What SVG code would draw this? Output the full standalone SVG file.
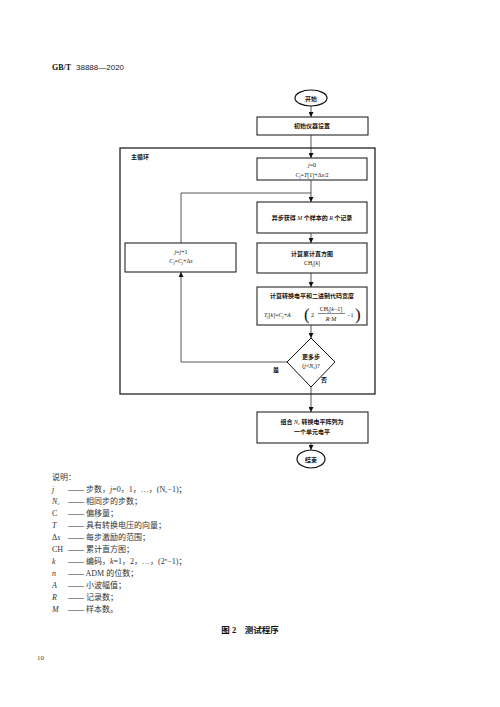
<svg xmlns="http://www.w3.org/2000/svg" width="500" height="707" viewBox="0 0 500 707">
<defs>
<marker id="ah" viewBox="0 0 6 6" refX="6" refY="3" markerWidth="5" markerHeight="5" orient="auto" markerUnits="userSpaceOnUse">
<path d="M0,0 L6,3 L0,6 z" fill="#111"/>
</marker>
</defs>
<style>
.t{font-family:"Liberation Serif","Noto Sans CJK SC",serif;fill:#111}
.n{font-size:6px;text-anchor:middle}
.b{font-weight:bold}
.box{fill:#fff;stroke:#111;stroke-width:1}
.ln{fill:none;stroke:#111;stroke-width:0.7}
.lg{font-size:8px;fill:#333}
</style>
<rect width="500" height="707" fill="#fff"/>
<text class="t b" x="52" y="70" font-size="8">GB/T</text>
<text x="76" y="70" style="font-size:8px;font-family:'Liberation Sans',sans-serif;fill:#222">38888—2020</text>

<rect id="mainloop" x="120" y="148" width="255" height="246" fill="none" stroke="#111" stroke-width="1.2"/>
<text class="t b" x="131" y="159" font-size="6">主循环</text>

<g id="connectors">
<line class="ln" x1="311" y1="106" x2="311" y2="117" marker-end="url(#ah)"/>
<line class="ln" x1="311" y1="135" x2="311" y2="158" marker-end="url(#ah)"/>
<line class="ln" x1="311" y1="180" x2="311" y2="202" marker-end="url(#ah)"/>
<polyline class="ln" points="181,243 181,193 311,193"/>
<line class="ln" x1="311" y1="233" x2="311" y2="243" marker-end="url(#ah)"/>
<line class="ln" x1="311" y1="273" x2="311" y2="287" marker-end="url(#ah)"/>
<line class="ln" x1="311" y1="325" x2="311" y2="338" marker-end="url(#ah)"/>
<polyline class="ln" points="287,362 181,362 181,272" marker-end="url(#ah)"/>
<line class="ln" x1="311" y1="387" x2="311" y2="412" marker-end="url(#ah)"/>
<line class="ln" x1="311" y1="443" x2="311" y2="450" marker-end="url(#ah)"/>
<text class="t b" x="273" y="372" font-size="6">是</text>
<text class="t b" x="321" y="382" font-size="6">否</text>
</g>

<g id="start">
<ellipse cx="311" cy="98" rx="16" ry="8" fill="#fff" stroke="#111" stroke-width="1.2"/>
<text class="t n b" x="311" y="100.5">开始</text>
</g>
<g id="init">
<rect class="box" x="257" y="117" width="111" height="18"/>
<text class="t n b" x="312" y="128">初始仪器设置</text>
</g>
<g id="j0">
<rect class="box" x="257" y="158" width="110" height="22"/>
<text class="t n" x="312" y="167"><tspan font-style="italic">j</tspan>=0</text>
<text class="t n" x="312" y="176.5"><tspan font-style="italic">C</tspan><tspan font-size="4" font-style="italic" dy="1">j</tspan><tspan dy="-1">=</tspan><tspan font-style="italic">T</tspan>[1]+Δ<tspan font-style="italic">s</tspan>/2</text>
</g>
<g id="acquire">
<rect class="box" x="257" y="202" width="110" height="31"/>
<text class="t n b" x="312" y="219.5">异步获得 <tspan font-style="italic" font-weight="normal">M</tspan> 个样本的 <tspan font-style="italic" font-weight="normal">R</tspan> 个记录</text>
</g>
<g id="hist">
<rect class="box" x="257" y="243" width="110" height="30"/>
<text class="t n b" x="312" y="256">计算累计直方图</text>
<text class="t n" x="312" y="265">CH<tspan font-size="4" font-style="italic" dy="1">j</tspan><tspan dy="-1">[</tspan><tspan font-style="italic">k</tspan>]</text>
</g>
<g id="calc">
<rect class="box" x="257" y="287" width="110" height="38"/>
<text class="t n b" x="312" y="298">计算转换电平和二进制代码宽度</text>
<text class="t" x="264" y="316.5" font-size="6"><tspan font-style="italic">T</tspan><tspan font-size="4" font-style="italic" dy="1">j</tspan><tspan dy="-1">[</tspan><tspan font-style="italic">k</tspan>]=<tspan font-style="italic">C</tspan><tspan font-size="4" font-style="italic" dy="1">j</tspan><tspan dy="-1">+</tspan><tspan font-style="italic">A</tspan></text>
<text class="t" x="304" y="320" font-size="17">(</text>
<text class="t" x="311" y="316.5" font-size="6">2</text>
<text class="t n" x="331" y="311">CH<tspan font-size="4" font-style="italic" dy="1">j</tspan><tspan dy="-1">[</tspan><tspan font-style="italic">k</tspan>−1]</text>
<line x1="318" y1="313.5" x2="345" y2="313.5" stroke="#111" stroke-width="0.5"/>
<text class="t n" x="331" y="320.5"><tspan font-style="italic">R</tspan>·<tspan font-style="italic">M</tspan></text>
<text class="t" x="347" y="316.5" font-size="6">−1</text>
<text class="t" x="355" y="320" font-size="17">)</text>
</g>
<g id="decision">
<polygon points="311,338 335,362 311,387 287,362" fill="#fff" stroke="#111" stroke-width="1"/>
<text class="t n b" x="311" y="359">更多步</text>
<text class="t n" x="311" y="368">(<tspan font-style="italic">j</tspan>&lt;<tspan font-style="italic">N</tspan><tspan font-size="4" font-style="italic" dy="1">c</tspan><tspan dy="-1">)?</tspan></text>
</g>
<g id="incr">
<rect class="box" x="125" y="243" width="111" height="29"/>
<text class="t n" x="181" y="254"><tspan font-style="italic">j</tspan>=<tspan font-style="italic">j</tspan>+1</text>
<text class="t n" x="181" y="263"><tspan font-style="italic">C</tspan><tspan font-size="4" font-style="italic" dy="1">j</tspan><tspan dy="-1">=</tspan><tspan font-style="italic">C</tspan><tspan font-size="4" font-style="italic" dy="1">j</tspan><tspan dy="-1">+Δ</tspan><tspan font-style="italic">s</tspan></text>
</g>
<g id="combine">
<rect class="box" x="257" y="412" width="111" height="31"/>
<text class="t n b" x="312" y="424">组合 <tspan font-style="italic" font-weight="normal">N</tspan><tspan font-size="4" font-style="italic" font-weight="normal" dy="1">c</tspan><tspan dy="-1"> 转换电平阵列为</tspan></text>
<text class="t n b" x="312" y="434">一个单元电平</text>
</g>
<g id="end">
<ellipse cx="311" cy="459" rx="14" ry="9" fill="#fff" stroke="#111" stroke-width="1.2"/>
<text class="t n b" x="311" y="461.5">结束</text>
</g>

<g id="legend" class="t lg">
<text x="52" y="480">说明：</text>
<text x="52" y="492"><tspan font-style="italic">j</tspan><tspan x="68">—— 步数，</tspan><tspan font-style="italic">j</tspan>=0，1，…，(N<tspan font-size="5" dy="1">c</tspan><tspan dy="-1">−1)；</tspan></text>
<text x="52" y="504"><tspan font-style="italic">N</tspan><tspan font-size="5" font-style="italic" dy="1">c</tspan><tspan x="68" dy="-1">—— 相同步的步数；</tspan></text>
<text x="52" y="516">C<tspan x="68">—— 偏移量；</tspan></text>
<text x="52" y="528"><tspan font-style="italic">T</tspan><tspan x="68">—— 具有转换电压的向量；</tspan></text>
<text x="52" y="540">Δ<tspan font-style="italic">s</tspan><tspan x="68">—— 每步激励的范围；</tspan></text>
<text x="52" y="552">CH<tspan x="68">—— 累计直方图；</tspan></text>
<text x="52" y="564"><tspan font-style="italic">k</tspan><tspan x="68">—— 编码，</tspan><tspan font-style="italic">k</tspan>=1，2，…，(2<tspan font-size="5" font-style="italic" dy="-3">n</tspan><tspan dy="3">−1)；</tspan></text>
<text x="52" y="576"><tspan font-style="italic">n</tspan><tspan x="68">—— ADM 的位数；</tspan></text>
<text x="52" y="588"><tspan font-style="italic">A</tspan><tspan x="68">—— 小波幅值；</tspan></text>
<text x="52" y="600"><tspan font-style="italic">R</tspan><tspan x="68">—— 记录数；</tspan></text>
<text x="52" y="612"><tspan font-style="italic">M</tspan><tspan x="68">—— 样本数。</tspan></text>
</g>
<text class="t b" x="250" y="633" font-size="8.5" text-anchor="middle">图 2　测试程序</text>
<text x="37" y="660" style="font-size:7px;font-family:'Liberation Serif',serif;fill:#444">10</text>
</svg>
